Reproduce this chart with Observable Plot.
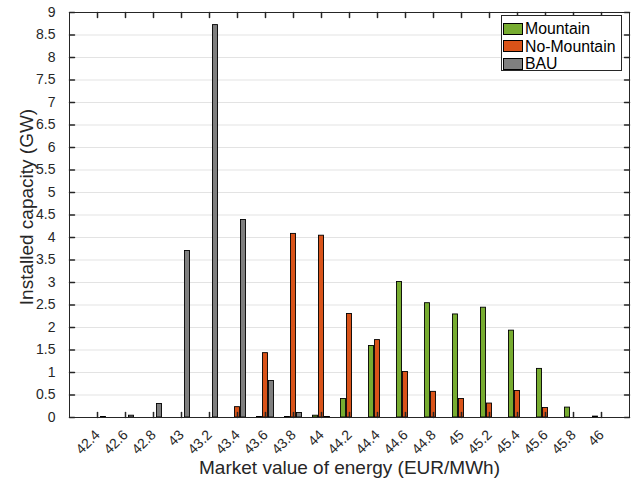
<!DOCTYPE html>
<html>
<head>
<meta charset="utf-8">
<script src="https://cdn.jsdelivr.net/npm/d3@7"></script>
<script src="https://cdn.jsdelivr.net/npm/@observablehq/plot@0.6"></script>
<style>
  html, body { margin: 0; padding: 0; background: #fff; }
  #wrap { position: relative; width: 632px; height: 479px; font-family: "Liberation Sans", Arial, Helvetica, sans-serif; }
  #legend { position: absolute; left: 501px; top: 15px; width: 121px; height: 56px; border: 1px solid #262626; background: #fff; box-sizing: border-box; }
  .sw { position: absolute; left: 1px; width: 20px; height: 12px; box-sizing: border-box; border: 1px solid #000; }
  .lt { position: absolute; left: 23px; font-size: 15.8px; line-height: 17px; color: #000; white-space: nowrap; }
</style>
</head>
<body>
<div id="wrap"></div>
<script>
const categories = [42.4, 42.6, 42.8, 43, 43.2, 43.4, 43.6, 43.8, 44, 44.2, 44.4, 44.6, 44.8, 45, 45.2, 45.4, 45.6, 45.8, 46];
const tickLabels = ["42.4","42.6","42.8","43","43.2","43.4","43.6","43.8","44","44.2","44.4","44.6","44.8","45","45.2","45.4","45.6","45.8","46"];
const mountain   = [0, 0, 0, 0, 0, 0, 0.01, 0.01, 0.04, 0.41, 1.59, 3.01, 2.54, 2.29, 2.44, 1.93, 1.08, 0.22, 0.02];
const noMountain = [0, 0, 0, 0, 0, 0.23, 1.43, 4.08, 4.04, 2.30, 1.72, 1.01, 0.57, 0.41, 0.31, 0.59, 0.21, 0, 0];
const bau        = [0.01, 0.04, 0.30, 3.70, 8.72, 4.39, 0.81, 0.10, 0.01, 0, 0, 0, 0, 0, 0, 0, 0, 0, 0];
const seriesNames = ["Mountain", "No-Mountain", "BAU"];
const seriesColors = ["#77AC30", "#D95319", "#7F7F7F"];
const yTicks = [0, 0.5, 1, 1.5, 2, 2.5, 3, 3.5, 4, 4.5, 5, 5.5, 6, 6.5, 7, 7.5, 8, 8.5, 9];
const yTickLabels = ["0","0.5","1","1.5","2","2.5","3","3.5","4","4.5","5","5.5","6","6.5","7","7.5","8","8.5","9"];
const xLabel = "Market value of energy (EUR/MWh)";
const yLabel = "Installed capacity (GW)";

const seriesValues = [mountain, noMountain, bau];
const rows = [];
categories.forEach((c, i) => {
  seriesNames.forEach((s, j) => rows.push({x: c, s, j, v: seriesValues[j][i]}));
});

const groupOff = 0.2 * 6 / 28;
const barW = 0.2 * 5 / 28;

const ink = "#262626";
const up = {draw(c, l) { c.moveTo(0, 0); c.lineTo(0, -l); }};
const down = {draw(c, l) { c.moveTo(0, 0); c.lineTo(0, l); }};
const right = {draw(c, l) { c.moveTo(0, 0); c.lineTo(l, 0); }};
const left = {draw(c, l) { c.moveTo(0, 0); c.lineTo(-l, 0); }};

const chart = Plot.plot({
  width: 632,
  height: 479,
  marginLeft: 69,
  marginRight: 3,
  marginTop: 12,
  marginBottom: 62,
  style: {fontFamily: '"Liberation Sans", Arial, Helvetica, sans-serif', background: "#fff", overflow: "visible"},
  x: {type: "linear", domain: [42.2, 46.2], axis: null},
  y: {domain: [0, 9], axis: null},
  color: {domain: seriesNames, range: seriesColors},
  marks: [
    Plot.ruleY(yTicks.slice(1, -1), {stroke: "#e3e3e3", strokeWidth: 1}),
    Plot.rect(rows.filter(d => d.v > 0), {
      x1: d => d.x + (d.j - 1) * groupOff - barW / 2,
      x2: d => d.x + (d.j - 1) * groupOff + barW / 2,
      y1: () => 0,
      y2: "v",
      fill: "s",
      stroke: "#000",
      strokeWidth: 0.9
    }),
    Plot.frame({stroke: ink, strokeWidth: 1}),
    Plot.vector(categories, {x: d => d, y: () => 0, length: 5, anchor: "start", shape: up, stroke: ink}),
    Plot.vector(categories, {x: d => d, y: () => 9, length: 5, anchor: "start", shape: down, stroke: ink}),
    Plot.vector(yTicks, {y: d => d, x: () => 42.2, length: 5, anchor: "start", shape: right, stroke: ink}),
    Plot.vector(yTicks, {y: d => d, x: () => 46.2, length: 5, anchor: "start", shape: left, stroke: ink}),
    Plot.text(categories, {x: d => d, y: () => 0, text: (d, i) => tickLabels[i], rotate: -45, textAnchor: "end", lineAnchor: "middle", dx: 0, dy: 15, fontSize: 14, fill: ink}),
    Plot.axisY(yTicks, {tickSize: 0, tickPadding: 14, tickFormat: (d, i) => yTickLabels[i], fontSize: 14, color: ink, label: null}),
    Plot.text([xLabel], {frameAnchor: "bottom", textAnchor: "middle", lineAnchor: "middle", dy: 50, fontSize: 19, fill: ink}),
    Plot.text([yLabel], {frameAnchor: "left", textAnchor: "middle", lineAnchor: "middle", rotate: -90, dx: -43, dy: -8, fontSize: 19, fill: ink})
  ]
});
const wrap = document.getElementById("wrap");
wrap.appendChild(chart);

const legend = document.createElement("div");
legend.id = "legend";
seriesNames.forEach((name, i) => {
  const cy = 28.7 + 17.4 * i - 15;
  const sw = document.createElement("div");
  sw.className = "sw";
  sw.style.top = (cy - 6 - 1) + "px";
  sw.style.background = seriesColors[i];
  const t = document.createElement("div");
  t.className = "lt";
  t.style.top = (cy - 8.5 - 1) + "px";
  t.textContent = name;
  legend.appendChild(sw);
  legend.appendChild(t);
});
wrap.appendChild(legend);
</script>
</body>
</html>
